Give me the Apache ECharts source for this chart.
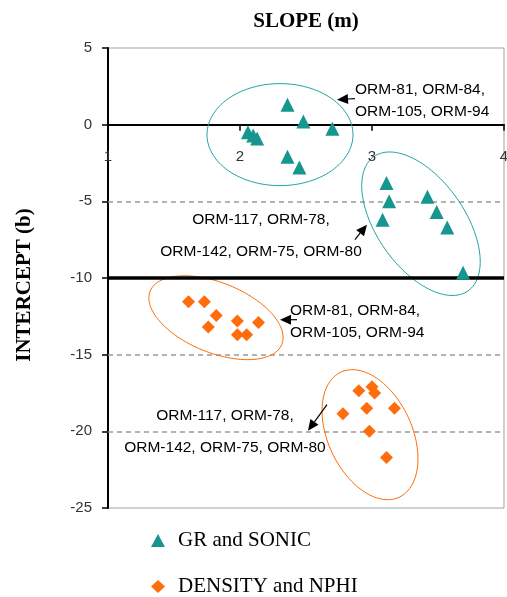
<!DOCTYPE html>
<html><head><meta charset="utf-8">
<script src="https://cdn.jsdelivr.net/npm/echarts@6/dist/echarts.min.js"></script>
<style>html,body{margin:0;padding:0;background:#fff}#c{width:507px;height:597px}</style>
</head><body><div id="c"></div>
<script>
// ---- data ----
const xTicks = [1, 2, 3, 4];
const yTicks = [5, 0, -5, -10, -15, -20, -25];
const dashedLevels = [-5, -15, -20];
const boldLevel = -10;
const grSlope     = [2.36, 2.48, 2.70, 2.06, 2.10, 2.13, 2.36, 2.45, 3.11, 3.13, 3.08, 3.42, 3.49, 3.57, 3.69];
const grIntercept = [1.3, 0.2, -0.26, -0.5, -0.7, -0.9, -2.1, -2.8, -3.8, -5.0, -6.2, -4.7, -5.7, -6.7, -9.65];
const dnSlope     = [1.61, 1.73, 1.82, 1.76, 1.98, 1.98, 2.05, 2.14, 2.90, 3.00, 3.02, 2.78, 2.96, 3.17, 2.98, 3.11];
const dnIntercept = [-11.55, -11.55, -12.45, -13.2, -12.8, -13.7, -13.7, -12.9, -17.35, -17.1, -17.5, -18.85, -18.5, -18.5, -20.0, -21.7];
const seriesNames = ['GR and SONIC', 'DENSITY and NPHI'];
const groupLabels = [
  'ORM-81, ORM-84,\nORM-105, ORM-94',
  'ORM-117, ORM-78,\nORM-142, ORM-75, ORM-80',
  'ORM-81, ORM-84,\nORM-105, ORM-94',
  'ORM-117, ORM-78,\nORM-142, ORM-75, ORM-80'
];
// annotation anchors (data units)
const ellipseCx = [2.303, 3.371, 1.818, 2.985];
const ellipseCy = [-0.65, -6.46, -12.59, -20.22];
const labelX = [2.871, 2.159, 2.379, 1.886];
const labelY = [1.566, -7.24, -12.85, -20.03];
const arrowTailX = [2.871, 2.871, 2.432, 2.659];
const arrowTailY = [1.70, -7.50, -12.72, -18.26];
const arrowTipX  = [2.735, 2.962, 2.303, 2.515];
const arrowTipY  = [1.63, -6.52, -12.72, -19.96];

// ---- styles ----
const TEAL = '#17958f', ORANGE = '#ff6c0c';
const ellipseStyle = [
  {a: 73, b: 51, rot: 0, color: '#1fa3a3'},
  {a: 82, b: 44, rot: 55, color: '#1fa3a3'},
  {a: 71, b: 35, rot: 22, color: '#ff6a00'},
  {a: 69, b: 42, rot: 65, color: '#ff6a00'}
];
const labelStyle = [
  {align: 'left', lh: 22}, {align: 'center', lh: 32},
  {align: 'left', lh: 22}, {align: 'center', lh: 32}
];

const chart = echarts.init(document.getElementById('c'));
const sans = 'Liberation Sans, Arial, sans-serif';
const serif = 'Liberation Serif, Times New Roman, serif';

function renderEllipse(params, api) {
  const i = params.dataIndex;
  const c = api.coord([ellipseCx[i], ellipseCy[i]]);
  const s = ellipseStyle[i];
  const th = s.rot * Math.PI / 180;
  const pts = [];
  for (let k = 0; k < 120; k++) {
    const t = k / 120 * Math.PI * 2;
    const ex = s.a * Math.cos(t), ey = s.b * Math.sin(t);
    pts.push([c[0] + ex * Math.cos(th) - ey * Math.sin(th), c[1] + ex * Math.sin(th) + ey * Math.cos(th)]);
  }
  return {type: 'polygon', shape: {points: pts}, style: {fill: 'none', stroke: s.color, lineWidth: 1}, silent: true};
}

function renderLabel(params, api) {
  const i = params.dataIndex;
  const p = api.coord([labelX[i], labelY[i]]);
  const tail = api.coord([arrowTailX[i], arrowTailY[i]]);
  const tip = api.coord([arrowTipX[i], arrowTipY[i]]);
  const dx = tip[0] - tail[0], dy = tip[1] - tail[1];
  const L = Math.sqrt(dx * dx + dy * dy);
  const ux = dx / L, uy = dy / L;
  const hl = 11, hw = 5;
  const bx = tip[0] - ux * hl, by = tip[1] - uy * hl;
  const st = labelStyle[i];
  return {
    type: 'group', silent: true,
    children: [
      {type: 'text', style: {text: groupLabels[i], x: p[0], y: p[1], align: st.align, verticalAlign: 'middle',
        fill: '#000', font: '15.5px ' + sans, lineHeight: st.lh}},
      {type: 'line', shape: {x1: tail[0], y1: tail[1], x2: bx, y2: by}, style: {stroke: '#000', lineWidth: 1.2}},
      {type: 'polygon', shape: {points: [[tip[0], tip[1]], [bx - uy * hw, by + ux * hw], [bx + uy * hw, by - ux * hw]]},
        style: {fill: '#000'}}
    ]
  };
}

// x tick labels sit under the y=0 axis line
function renderXTick(params, api) {
  const v = api.value(0);
  const p = api.coord([v, 0]);
  return {type: 'text', silent: true,
    style: {text: String(v), x: p[0], y: p[1] + 32, align: 'center', verticalAlign: 'middle',
      fill: '#333', font: '15px ' + sans}};
}

chart.setOption({
  animation: false,
  title: {text: 'SLOPE (m)', left: 301, top: 6, textAlign: 'center',
    textStyle: {fontFamily: serif, fontWeight: 'bold', fontSize: 21, color: '#000'}},
  grid: {left: 108, right: 3, top: 48, bottom: 89, show: true, borderColor: '#a0a0a0', borderWidth: 1},
  legend: {
    data: seriesNames, orient: 'vertical', left: 151, top: 530, itemGap: 25, padding: 0,
    itemWidth: 14, itemHeight: 13,
    formatter: n => '{t|' + n + '}',
    textStyle: {fontFamily: serif, fontSize: 21, color: '#000',
      rich: {t: {fontFamily: serif, fontSize: 21, color: '#000', padding: [0, 0, 0, 8]}}}
  },
  xAxis: {
    type: 'value', min: xTicks[0], max: xTicks[xTicks.length - 1], interval: 1,
    axisLine: {onZero: true, lineStyle: {color: '#000', width: 2}},
    axisTick: {show: true, length: 6, lineStyle: {color: '#000', width: 1.5}},
    axisLabel: {show: false},
    splitLine: {show: false}
  },
  yAxis: {
    type: 'value', min: yTicks[yTicks.length - 1], max: yTicks[0], interval: 5,
    name: 'INTERCEPT (b)', nameLocation: 'middle', nameGap: 73, nameRotate: 90,
    nameTextStyle: {fontFamily: serif, fontWeight: 'bold', fontSize: 21, color: '#000', padding: [0, 14, 0, 0]},
    axisLine: {show: true, lineStyle: {color: '#000', width: 2}},
    axisTick: {show: true, length: 6, lineStyle: {color: '#000', width: 1.5}},
    axisLabel: {margin: 16, fontSize: 15, fontFamily: sans, color: '#333'},
    splitLine: {show: false}
  },
  series: [
    {type: 'custom', name: 'ellipses', renderItem: renderEllipse, data: ellipseCx.map((x, i) => [x, ellipseCy[i]]), z: 1, silent: true},
    {type: 'custom', name: 'labels', renderItem: renderLabel, data: labelX.map((x, i) => [x, labelY[i]]), z: 5, silent: true},
    {type: 'custom', name: 'xticks', renderItem: renderXTick, data: xTicks.map(v => [v, 0]), z: 5, silent: true},
    {type: 'scatter', name: seriesNames[0], symbol: 'triangle', symbolSize: [14, 14],
      itemStyle: {color: TEAL, opacity: 1}, data: grSlope.map((x, i) => [x, grIntercept[i]]), z: 3,
      markLine: {silent: true, symbol: ['none', 'none'], label: {show: false}, z: 2,
        lineStyle: {color: '#000', width: 3.5, type: 'solid'}, data: [{yAxis: boldLevel}]}},
    {type: 'scatter', name: seriesNames[1], symbol: 'diamond', symbolSize: 13,
      itemStyle: {color: ORANGE, opacity: 1}, data: dnSlope.map((x, i) => [x, dnIntercept[i]]), z: 3,
      markLine: {silent: true, symbol: ['none', 'none'], label: {show: false}, z: 1,
        lineStyle: {color: '#999', width: 1.5, type: [5, 4]}, data: dashedLevels.map(v => ({yAxis: v}))}}
  ]
});
</script></body></html>
